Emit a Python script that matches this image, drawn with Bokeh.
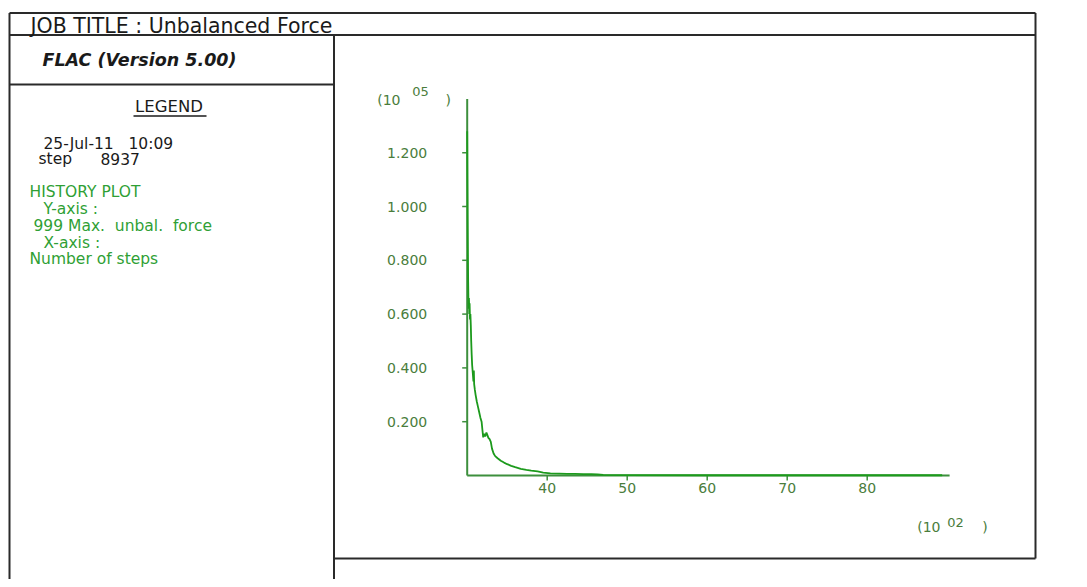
from bokeh.plotting import figure
from bokeh.models import Range1d
from bokeh.core.properties import value
from bokeh.embed import file_html
from bokeh.resources import INLINE

# ---------------- data (steps in units of 10^2, force in units of 10^5) ----------------
steps = [30.00, 30.03, 30.06, 30.09, 30.12, 30.15, 30.18, 30.22, 30.26, 30.30,
         30.35, 30.40, 30.45, 30.50, 30.56, 30.62, 30.70, 30.78, 30.83, 30.87,
         30.95, 31.05, 31.20, 31.35, 31.50, 31.65, 31.80, 31.90, 32.00, 32.10,
         32.25, 32.40, 32.50, 32.65, 32.80, 32.95, 33.10, 33.30, 33.50, 33.80,
         34.20, 34.60, 35.00, 35.50, 36.00, 36.70, 37.40, 38.00, 38.80, 39.50,
         40.40, 41.50, 42.50, 43.50, 44.50, 45.50, 46.30, 47.00, 50.00, 60.00,
         70.00, 80.00, 89.37]
force = [1.28, 1.10, 0.95, 0.82, 0.72, 0.66, 0.62, 0.66, 0.60, 0.64,
         0.58, 0.60, 0.56, 0.50, 0.45, 0.41, 0.38, 0.35, 0.39, 0.34,
         0.32, 0.30, 0.275, 0.255, 0.235, 0.215, 0.20, 0.17, 0.142, 0.155,
         0.145, 0.16, 0.152, 0.14, 0.135, 0.125, 0.10, 0.082, 0.072, 0.064,
         0.055, 0.048, 0.042, 0.036, 0.031, 0.025, 0.021, 0.018, 0.015, 0.011,
         0.008, 0.007, 0.006, 0.006, 0.005, 0.005, 0.004, 0.002, 0.0015, 0.001,
         0.001, 0.001, 0.001]

x_axis_limits = [30.0, 90.3]
y_axis_limits = [0.0, 1.40]
x_ticks = [40, 50, 60, 70, 80]
x_tick_labels = ["40", "50", "60", "70", "80"]
y_ticks = [0.2, 0.4, 0.6, 0.8, 1.0, 1.2]
y_tick_labels = ["0.200", "0.400", "0.600", "0.800", "1.000", "1.200"]

title_text = "JOB TITLE : Unbalanced Force"
version_text = "FLAC (Version 5.00)"
legend_head = "LEGEND"
info_words = ["25-Jul-11", "10:09", "step", "8937"]
history_lines = ["HISTORY PLOT", "Y-axis :", "999 Max.\u00a0 unbal.\u00a0 force", "X-axis :", "Number of steps"]

# ---------------- geometry (page pixels) ----------------
W, H = 1071, 579
PAGE0 = 0
X0_PX, X_PX_PER_UNIT = 466.7, 8.0
Y0_PX, Y_PX_PER_UNIT = 475.0, 269.0

xr = Range1d(x_axis_limits[0] - (X0_PX - PAGE0) / X_PX_PER_UNIT,
             x_axis_limits[0] + (PAGE0 + W - X0_PX) / X_PX_PER_UNIT)
yr = Range1d(-(PAGE0 + H - Y0_PX) / Y_PX_PER_UNIT, (Y0_PX - PAGE0) / Y_PX_PER_UNIT)

p = figure(width=W, height=H, x_range=xr, y_range=yr, title=None,
           x_axis_type=None, y_axis_type=None, output_backend="svg",
           toolbar_location=None, min_border=0, outline_line_color=None)
p.extra_x_ranges = {"px": Range1d(PAGE0, PAGE0 + W)}
p.extra_y_ranges = {"py": Range1d(PAGE0 + H, PAGE0)}
p.background_fill_color = "white"
p.border_fill_color = "white"

FONT = value("DejaVu Sans")
BLACK = "#1a1a1a"
FRAME = "#2a2a2a"
GREEN_TXT = "#2f9f35"
AXIS_GREEN = "#3d8f3d"
TICK_TXT = "#4a7d3c"
CURVE = "#1c9a1c"

# ---------------- frame boxes ----------------
fx0 = [9, 9, 9, 1035, 333.5, 9, 333.5]
fy0 = [12.5, 34.5, 12.5, 12.5, 34.5, 84, 558]
fx1 = [1035, 1035, 9, 1035, 333.5, 333.5, 1035]
fy1 = [12.5, 34.5, 590, 558, 590, 84, 558]
p.segment(fx0, fy0, fx1, fy1, line_color=FRAME, line_width=2,
          x_range_name="px", y_range_name="py")

# ---------------- header texts (positions = cap-height centres) ----------------
p.text([30], [25], text=[title_text], text_font=FONT, text_font_size="20.5px",
       text_color=BLACK, text_baseline="middle", x_range_name="px", y_range_name="py")
p.text([42], [59], text=[version_text], text_font=FONT, text_font_size="17.5px",
       text_font_style="bold italic", text_color=BLACK, text_baseline="middle",
       x_range_name="px", y_range_name="py")
p.text([168.5], [106], text=[legend_head], text_font=FONT, text_font_size="16.5px",
       text_color=BLACK, text_align="center", text_baseline="middle",
       x_range_name="px", y_range_name="py")
p.segment([133], [115.5], [206], [115.5], line_color=BLACK, line_width=1.5,
          x_range_name="px", y_range_name="py")

p.text([43, 128, 38, 100], [143.3, 143.3, 158.3, 158.3], text=info_words, text_font=FONT,
       text_font_size="15.5px", text_color=BLACK, text_baseline="middle",
       x_range_name="px", y_range_name="py")
p.text([29, 43, 33, 43, 29], [191.7, 208.5, 225.5, 242.5, 258], text=history_lines,
       text_font=FONT, text_font_size="15.5px", text_color=GREEN_TXT,
       text_baseline="middle", x_range_name="px", y_range_name="py")

# ---------------- axes drawn on the data scales ----------------
p.segment([x_axis_limits[0], x_axis_limits[0]], [y_axis_limits[0], y_axis_limits[0]],
          [x_axis_limits[0], x_axis_limits[1]], [y_axis_limits[1], y_axis_limits[0]],
          line_color=AXIS_GREEN, line_width=2)
ytick_len = 5 / X_PX_PER_UNIT
p.segment([x_axis_limits[0] - ytick_len] * len(y_ticks), y_ticks,
          [x_axis_limits[0]] * len(y_ticks), y_ticks, line_color=AXIS_GREEN, line_width=1.5)
xtick_len = 5 / Y_PX_PER_UNIT
p.segment(x_ticks, [0] * len(x_ticks), x_ticks, [-xtick_len] * len(x_ticks),
          line_color=AXIS_GREEN, line_width=1.5)

p.text([x_axis_limits[0] - 40 / X_PX_PER_UNIT] * len(y_ticks), y_ticks, text=y_tick_labels,
       text_font=FONT, text_font_size="14px", text_color=TICK_TXT,
       text_align="right", text_baseline="middle")
p.text(x_ticks, [-7 / Y_PX_PER_UNIT] * len(x_ticks), text=x_tick_labels,
       text_font=FONT, text_font_size="14px", text_color=TICK_TXT,
       text_align="center", text_baseline="top")

# multiplier labels
p.text([376.7, 445], [99.5, 99.5], text=["(10", ")"], text_font=FONT, text_font_size="14px",
       text_color=TICK_TXT, text_baseline="middle", x_range_name="px", y_range_name="py")
p.text([411.7], [91], text=["05"], text_font=FONT, text_font_size="13px",
       text_color=TICK_TXT, text_baseline="middle", x_range_name="px", y_range_name="py")
p.text([916.7, 981.7], [526, 526], text=["(10", ")"], text_font=FONT, text_font_size="14px",
       text_color=TICK_TXT, text_baseline="middle", x_range_name="px", y_range_name="py")
p.text([946.7], [521.7], text=["02"], text_font=FONT, text_font_size="13px",
       text_color=TICK_TXT, text_baseline="middle", x_range_name="px", y_range_name="py")

# ---------------- history curve ----------------
p.line(steps, force, line_color=CURVE, line_width=1.8)

open("out.html", "w").write(file_html(p, INLINE))
